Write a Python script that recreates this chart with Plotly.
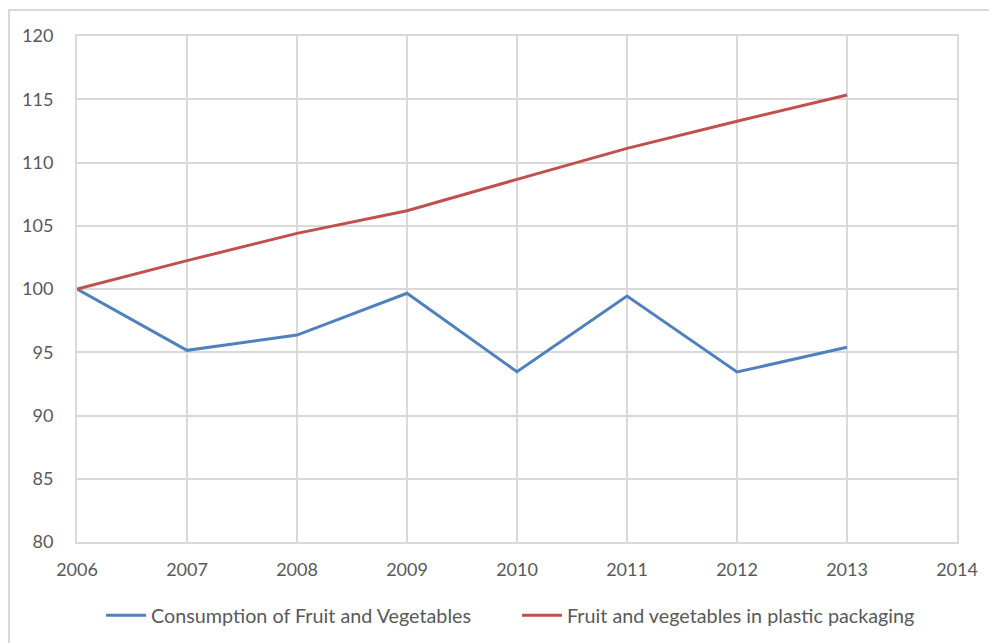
import plotly.graph_objects as go

years = [2006, 2007, 2008, 2009, 2010, 2011, 2012, 2013]
consumption = [100, 95.15, 96.36, 99.66, 93.46, 99.45, 93.44, 95.39]
plastic_packaging = [100, 102.24, 104.40, 106.19, 108.67, 111.12, 113.26, 115.34]
series_names = ["Consumption of Fruit and Vegetables", "Fruit and vegetables in plastic packaging"]
x_ticks = [2006, 2007, 2008, 2009, 2010, 2011, 2012, 2013, 2014]
y_ticks = [80, 85, 90, 95, 100, 105, 110, 115, 120]

text_color = "#595959"
grid_color = "#d9d9d9"
font_family = "Lato, Open Sans, sans-serif"

fig = go.Figure()
fig.add_trace(go.Scatter(x=years, y=consumption, mode="lines", name=series_names[0],
                         line=dict(color="#4f81bd", width=3), legend="legend"))
fig.add_trace(go.Scatter(x=years, y=plastic_packaging, mode="lines", name=series_names[1],
                         line=dict(color="#c0504d", width=3), legend="legend2"))

legend_style = dict(orientation="h", xref="container", yref="container",
                    xanchor="left", y=0.043, yanchor="middle",
                    font=dict(size=19.75, color=text_color), itemwidth=40,
                    bgcolor="rgba(0,0,0,0)")

fig.update_layout(
    width=989, height=643,
    margin=dict(l=77, r=32, t=36, b=101),
    paper_bgcolor="white", plot_bgcolor="white",
    font=dict(family=font_family, size=18, color=text_color),
    showlegend=True,
    legend=dict(x=101 / 989, **legend_style),
    legend2=dict(x=517 / 989, **legend_style),
    xaxis=dict(range=[2006, 2014], tickvals=x_ticks, ticktext=[str(v) for v in x_ticks],
               showgrid=True, gridcolor=grid_color, gridwidth=2,
               showline=True, linecolor=grid_color, linewidth=2, mirror=True,
               zeroline=False, ticks="", ticklabelstandoff=10, automargin=False,
               tickfont=dict(size=18, color=text_color)),
    yaxis=dict(range=[80, 120], tickvals=y_ticks,
               showgrid=True, gridcolor=grid_color, gridwidth=2,
               showline=True, linecolor=grid_color, linewidth=2, mirror=True,
               zeroline=False, ticks="", ticklabelstandoff=18, automargin=False,
               tickfont=dict(size=18, color=text_color)),
    shapes=[dict(type="rect", xref="paper", yref="paper",
                 x0=-0.0773, x1=1.2, y0=-0.4, y1=1.0514,
                 line=dict(color=grid_color, width=2), fillcolor="rgba(0,0,0,0)", layer="below")],
)

fig.write_html("out.html")
